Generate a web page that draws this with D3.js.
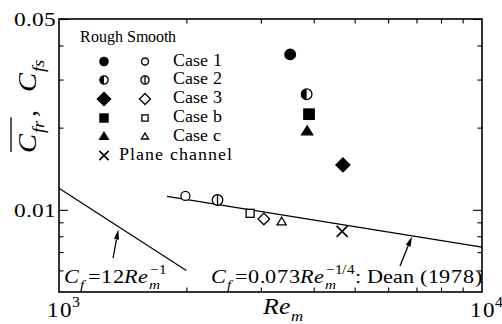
<!DOCTYPE html>
<html>
<head>
<meta charset="utf-8">
<script src="https://cdn.jsdelivr.net/npm/d3@7"></script>
<style>
  @font-face { font-family: "PlotSerif"; font-style: normal; font-weight: 400;
    src: local("Liberation Serif"), local("LiberationSerif"), local("LiberationSerif-Regular"),
         local("DejaVu Serif"), local("DejaVuSerif"); }
  @font-face { font-family: "PlotSerif"; font-style: italic; font-weight: 400;
    src: local("Liberation Serif Italic"), local("LiberationSerif-Italic"),
         local("DejaVu Serif Italic"), local("DejaVuSerif-Italic"); }
  body { margin: 0; background: #fff; }
</style>
</head>
<body>
<div id="chart"></div>
<script>
// data
const cases = ['Case 1', 'Case 2', 'Case 3', 'Case b', 'Case c']
const kinds = ['circle', 'half', 'diamond', 'square', 'triangle']
const roughRe = [3520, 3850, 4690, 3900, 3860]
const roughCf = [0.0371, 0.0265, 0.0146, 0.0224, 0.0193]
const smoothRe = [1990, 2370, 3050, 2830, 3360]
const smoothCf = [0.01124, 0.01086, 0.00926, 0.00971, 0.0090]
const planeRe = [4670]
const planeCf = [0.00834]
const deanRe = [1800, 10000]
const deanCf = [0.0112, 0.0073]
const lamRe = [1000, 2000]
const lamCf = [0.012, 0.006]
const arrowFrom = [[1342, 0.00666], [6400, 0.00623]]
const arrowTo = [[1381, 0.00847], [6830, 0.00798]]
const xMinor = [2000, 3000, 4000, 5000, 6000, 7000, 8000, 9000]
const xMajor = [1000, 10000]
const xExp = ['3', '4']
const yMinor = [0.006, 0.007, 0.008, 0.009, 0.02, 0.03, 0.04]
const yMajor = [0.01, 0.05]
const yLabels = ['0.01', '0.05']

const W = 502, H = 324
const margin = { top: 19, right: 20, bottom: 32, left: 59 }
const x0 = margin.left, x1 = W - margin.right, y0 = margin.top, y1 = H - margin.bottom
const FONT = 'PlotSerif, "Liberation Serif", "Times New Roman", Tinos, "Nimbus Roman", FreeSerif, serif'

const x = d3.scaleLog().domain([1000, 10000]).range([x0, x1])
const y = d3.scaleLog().domain([0.005, 0.05]).range([y1, y0])

const svg = d3.select('#chart').append('svg')
    .attr('xmlns', 'http://www.w3.org/2000/svg')
    .attr('width', W)
    .attr('height', H)
    .style('font-family', FONT)

// text with italics, sub- and superscripts, measured piece by piece
function richText(parent, px, py, parts, size, opts = {}) {
    const sx = opts.sx || 1
    const g = parent.append('g')
    const inner = g.append('g')
    let cx = 0
    const pos = []
    const add = (xx, yy, fs, it, str) => inner.append('text')
        .attr('x', xx).attr('y', yy)
        .attr('font-size', fs)
        .style('font-family', FONT)
        .attr('font-style', it ? 'italic' : 'normal')
        .text(str)
    parts.forEach(p => {
        pos.push(cx)
        if (p.gap) { cx += p.gap; return }
        if (p.sup != null || p.sub != null) {
            let w = 0
            if (p.sup != null) {
                const t = add(cx + 1, -size * 0.47, size * 0.66, false, p.sup)
                w = Math.max(w, t.node().getComputedTextLength() + 1)
            }
            if (p.sub != null) {
                const t = add(cx, size * 0.3, size * 0.66, true, p.sub)
                w = Math.max(w, t.node().getComputedTextLength() + 2.5)
            }
            cx += w
            return
        }
        const t = add(cx, 0, size, p.it, p.t)
        cx += t.node().getComputedTextLength() + (p.it ? 1 : 0)
    })
    pos.push(cx)
    let off = 0
    if (opts.anchor === 'middle') off = cx / 2
    if (opts.anchor === 'end') off = cx
    if (opts.anchor === 'first') off = pos[1] / 2
    inner.attr('transform', `scale(${sx},1) translate(${-off},0)`)
    g.attr('transform', `translate(${px},${py})` + (opts.rotate ? ` rotate(${opts.rotate})` : ''))
    return { g, inner, pos, size }
}

function marker(parent, kind, filled, cx, cy, s) {
    const m = parent.append('g').attr('transform', `translate(${cx},${cy})`)
    const fill = filled ? '#000' : '#fff'
    const sw = 1.3
    if (kind === 'circle' || kind === 'half') {
        const r = (filled || kind === 'half' ? 5.3 : 4.5) * s
        m.append('circle').attr('r', r).attr('fill', kind === 'half' ? '#fff' : fill)
            .attr('stroke', '#000').attr('stroke-width', sw)
        if (kind === 'half' && filled) {
            m.append('path').attr('d', `M0,${-r}A${r},${r} 0 0 0 0,${r}Z`).attr('fill', '#000')
        } else if (kind === 'half') {
            m.append('line').attr('y1', -r).attr('y2', r).attr('stroke', '#000').attr('stroke-width', sw)
        }
    } else if (kind === 'diamond') {
        const d = (filled ? 7 : 5.8) * s
        m.append('path').attr('d', `M0,${-d}L${d},0L0,${d}L${-d},0Z`)
            .attr('fill', fill).attr('stroke', '#000').attr('stroke-width', sw).attr('stroke-linejoin', 'miter')
    } else if (kind === 'square') {
        const a = (filled ? 5.2 : 4) * s
        m.append('rect').attr('x', -a).attr('y', -a).attr('width', 2 * a).attr('height', 2 * a)
            .attr('fill', fill).attr('stroke', '#000').attr('stroke-width', sw)
    } else if (kind === 'triangle') {
        const w = (filled ? 5.6 : 4.6) * s, h = (filled ? 9 : 7.6) * s
        m.append('path').attr('d', `M0,${-h * 2 / 3}L${w},${h / 3}L${-w},${h / 3}Z`)
            .attr('fill', fill).attr('stroke', '#000').attr('stroke-width', sw).attr('stroke-linejoin', 'miter')
    } else if (kind === 'cross') {
        const a = 5.5 * s
        m.append('path').attr('d', `M${-a},${-a}L${a},${a}M${-a},${a}L${a},${-a}`)
            .attr('stroke', '#000').attr('stroke-width', 1.6)
    }
}

// ticks, all pointing inward
function ticks(axis, tr, vals, size) {
    const g = svg.append('g').attr('transform', tr)
        .call(axis.tickValues(vals).tickSize(-size).tickFormat(''))
    g.select('.domain').remove()
    g.selectAll('line').attr('stroke', '#000').attr('stroke-width', 1.1)
}
ticks(d3.axisBottom(x), `translate(0,${y1})`, xMinor, 4.5)
ticks(d3.axisTop(x), `translate(0,${y0})`, xMinor, 4.5)
ticks(d3.axisLeft(y), `translate(${x0},0)`, yMinor, 4.5)
ticks(d3.axisRight(y), `translate(${x1},0)`, yMinor, 4.5)
ticks(d3.axisLeft(y), `translate(${x0},0)`, yMajor, 9)
ticks(d3.axisRight(y), `translate(${x1},0)`, yMajor, 9)

svg.append('rect')
    .attr('x', x0).attr('y', y0).attr('width', x1 - x0).attr('height', y1 - y0)
    .attr('fill', 'none').attr('stroke', '#000').attr('stroke-width', 1.6)

// tick labels
yMajor.forEach((v, i) => {
    richText(svg, x0 - 4, y(v) + 7, [{ t: yLabels[i] }], 20, { sx: 1.17, anchor: 'end' })
})
xMajor.forEach((v, i) => {
    richText(svg, x(v), 317, [{ t: '10' }, { sup: xExp[i] }], 22, { sx: 1.05, anchor: 'first' })
})

// axis titles
richText(svg, 285, 314, [{ t: 'Re', it: true }, { sub: 'm' }], 23, { sx: 1.12, anchor: 'middle' })
const yl = richText(svg, 36, 153, [
    { t: 'C', it: true }, { sub: 'fr' }, { t: ',' }, { gap: 16 }, { t: 'C', it: true }, { sub: 'fs' }
], 26, { sx: 1.1, rotate: -90 })
yl.inner.append('line')
    .attr('x1', yl.pos[0] + 1).attr('x2', yl.pos[2])
    .attr('y1', -25).attr('y2', -25)
    .attr('stroke', '#000').attr('stroke-width', 1.3)

// reference lines
const line = d3.line().x(d => x(d[0])).y(d => y(d[1]))
svg.append('path').datum(deanRe.map((r, i) => [r, deanCf[i]]))
    .attr('d', line).attr('fill', 'none').attr('stroke', '#000').attr('stroke-width', 1.2)
svg.append('path').datum(lamRe.map((r, i) => [r, lamCf[i]]))
    .attr('d', line).attr('fill', 'none').attr('stroke', '#000').attr('stroke-width', 1.2)

// arrows
arrowFrom.forEach((f, i) => {
    const ax = x(f[0]), ay = y(f[1]), bx = x(arrowTo[i][0]), by = y(arrowTo[i][1])
    const dx = bx - ax, dy = by - ay, len = Math.hypot(dx, dy)
    const ux = dx / len, uy = dy / len, hl = 10, hw = 2.6
    const cx = bx - ux * hl, cy = by - uy * hl
    svg.append('line').attr('x1', ax).attr('y1', ay).attr('x2', cx).attr('y2', cy)
        .attr('stroke', '#000').attr('stroke-width', 1.3)
    svg.append('path')
        .attr('d', `M${bx},${by}L${cx - uy * hw},${cy + ux * hw}L${cx + uy * hw},${cy - ux * hw}Z`)
        .attr('fill', '#000')
})

// formula labels
richText(svg, 64, 283, [
    { t: 'C', it: true }, { sub: 'f' }, { t: '=12' }, { t: 'Re', it: true }, { sup: '\u22121', sub: 'm' }
], 19, { sx: 1.17 })
richText(svg, 211, 283, [
    { t: 'C', it: true }, { sub: 'f' }, { t: '=0.073' }, { t: 'Re', it: true }, { sup: '\u22121/4', sub: 'm' },
    { t: ' : Dean (1978)' }
], 19, { sx: 1.17 })

// data points
kinds.forEach((k, i) => {
    marker(svg, k, false, x(smoothRe[i]), y(smoothCf[i]), 1)
    marker(svg, k, true, x(roughRe[i]), y(roughCf[i]), 1)
})
planeRe.forEach((r, i) => marker(svg, 'cross', false, x(r), y(planeCf[i]), 1))

// legend
const lg = svg.append('g')
lg.append('text').attr('x', 80).attr('y', 41.7).attr('font-size', 15.5)
    .style('font-family', FONT).text('Rough Smooth')
const rowY = [61.5, 80, 99, 118, 137]
cases.forEach((c, i) => {
    const s = kinds[i] === 'diamond' ? 0.95 : 0.78
    marker(lg, kinds[i], true, 104, rowY[i], s)
    marker(lg, kinds[i], false, 145, rowY[i], s)
    lg.append('text').attr('x', 173).attr('y', rowY[i] + 4).attr('font-size', 18)
        .style('font-family', FONT).text(c)
})
marker(lg, 'cross', false, 104, 155.5, 0.85)
lg.append('text').attr('x', 119).attr('y', 159.5).attr('font-size', 18)
    .style('font-family', FONT).attr('letter-spacing', 1).text('Plane channel')
</script>
</body>
</html>
